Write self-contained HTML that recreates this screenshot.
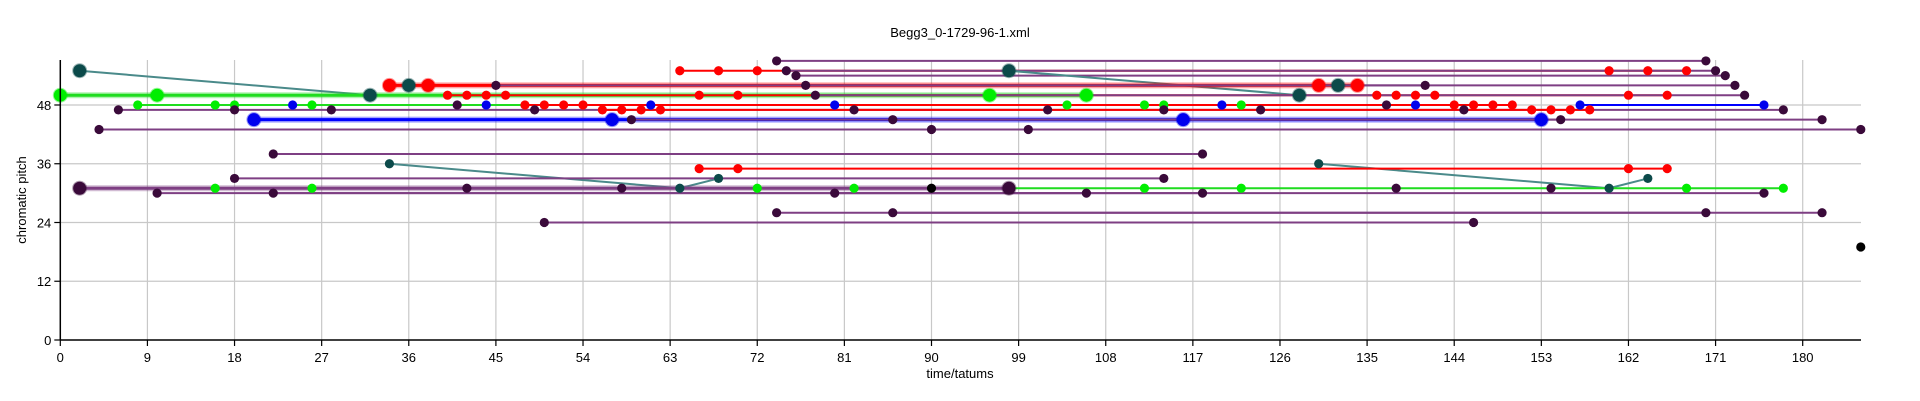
<!DOCTYPE html>
<html><head><meta charset="utf-8">
<style>
html,body{margin:0;padding:0;background:#fff;}
svg{display:block;font-family:"Liberation Sans",Arial,sans-serif;}
</style></head>
<body>
<svg id="chart" width="1920" height="401" viewBox="0 0 1920 401" xmlns="http://www.w3.org/2000/svg">
<text x="960" y="37" text-anchor="middle" font-size="13">Begg3_0-1729-96-1.xml</text>
<g id="grid"></g>
<g id="segs"></g>
<g id="dots"></g>
<g id="axes"></g>
<text x="960" y="378" text-anchor="middle" font-size="13">time/tatums</text>
<text transform="translate(26,200) rotate(-90)" text-anchor="middle" font-size="13">chromatic pitch</text>
</svg>
<script>
const xTicks = [0,9,18,27,36,45,54,63,72,81,90,99,108,117,126,135,144,153,162,171,180];
const yTicks = [0,12,24,36,48];
// segments: start time, end time, start pitch, end pitch, colour key, thick flag
const segT1 = [74,64,75,76,2,98,34,77,45,0,40,78,8,48,157,6,82,56,20,59,86,4,90,22,34,64,130,160,66,18,16,2,10,22,80,74,86,50];
const segT2 = [170,168,171,172,32,128,134,173,141,106,166,174,104,150,176,102,178,158,153,155,182,100,186,118,64,68,160,164,166,114,178,98,106,118,176,170,182,146];
const segP1 = [57,55,55,54,55,55,52,52,52,50,50,50,48,48,48,47,47,47,45,45,45,43,43,38,36,31,36,31,35,33,31,31,30,30,30,26,26,24];
const segP2 = [57,55,55,54,50,50,52,52,52,50,50,50,48,48,48,47,47,47,45,45,45,43,43,38,31,33,31,33,35,33,31,31,30,30,30,26,26,24];
const segC  = ['p','r','p','p','t','t','r','p','p','g','r','p','g','r','b','p','p','r','b','p','p','p','p','p','t','t','t','t','r','p','g','p','p','p','p','p','p','p'];
const segBig= [0,0,0,0,0,0,1,0,0,1,0,0,0,0,0,0,0,0,1,0,0,0,0,0,0,0,0,0,0,0,0,1,0,0,0,0,0,0];
// notes
const dotT = [2,98,32,36,128,132,34,38,130,134,0,10,96,106,20,57,116,153,2,98,
 8,16,18,26,104,112,114,122, 24,44,61,80,120,140,157,176,
 6,18,28,49,82,102,114,124,145,178,
 40,42,44,46,66,70,136,138,140,142,162,166,
 48,50,52,54,144,146,148,150, 56,58,60,62,152,154,156,158,
 64,68,72,160,164,168, 74,75,76,77,78,170,171,172,173,174,
 45,141,41,137,59,86,155,182,4,90,100,186,22,118,
 34,130,64,68,160,164,66,70,162,166,18,114,
 16,26,72,82,112,122,168,178, 42,58,138,154,90,
 10,22,80,106,118,176, 74,86,170,182, 50,146, 186];
const dotP = [55,55,50,52,50,52,52,52,52,52,50,50,50,50,45,45,45,45,31,31,
 48,48,48,48,48,48,48,48, 48,48,48,48,48,48,48,48,
 47,47,47,47,47,47,47,47,47,47,
 50,50,50,50,50,50,50,50,50,50,50,50,
 48,48,48,48,48,48,48,48, 47,47,47,47,47,47,47,47,
 55,55,55,55,55,55, 57,55,54,52,50,57,55,54,52,50,
 52,52,48,48,45,45,45,45,43,43,43,43,38,38,
 36,36,31,33,31,33,35,35,35,35,33,33,
 31,31,31,31,31,31,31,31, 31,31,31,31,31,
 30,30,30,30,30,30, 26,26,26,26, 24,24, 19];
const dotC = ['t','t','t','t','t','t','r','r','r','r','g','g','g','g','b','b','b','b','p','p',
 'g','g','g','g','g','g','g','g', 'b','b','b','b','b','b','b','b',
 'p','p','p','p','p','p','p','p','p','p',
 'r','r','r','r','r','r','r','r','r','r','r','r',
 'r','r','r','r','r','r','r','r','r','r','r','r','r','r','r','r',
 'r','r','r','r','r','r','p','p','p','p','p','p','p','p','p','p',
 'p','p','p','p','p','p','p','p','p','p','p','p','p','p',
 't','t','t','t','t','t','r','r','r','r','p','p',
 'g','g','g','g','g','g','g','g','p','p','p','p','k',
 'p','p','p','p','p','p','p','p','p','p','p','p','k'];
const dotBig = [1,1,1,1,1,1,1,1,1,1,1,1,1,1,1,1,1,1,1,1];

const X0=60.3, XS=9.68, Y0=340, YS=4.896, XR=1861, YT=60;
function xs(t){return X0+t*XS;}
function ys(p){return Y0-p*YS;}
const NS='http://www.w3.org/2000/svg';
function mk(tag,attrs,parent){const e=document.createElementNS(NS,tag);for(const k in attrs)e.setAttribute(k,attrs[k]);parent.appendChild(e);return e;}
const lineCol={p:'#7e3f83',r:'#ff0000',g:'#1fdc1f',b:'#0000ff',t:'#4a8a8a',k:'#000'};
const dotCol={p:'#3a0a3a',r:'#ff0000',g:'#00ee00',b:'#0000ee',t:'#0c4a4a',k:'#000'};
const grid=document.getElementById('grid'), segs=document.getElementById('segs'), dots=document.getElementById('dots'), axes=document.getElementById('axes');
xTicks.forEach(t=>{ if(t>0){
  const l=mk('line',{x1:xs(t),x2:xs(t),y1:YT,y2:Y0,stroke:'#c8c8c8','stroke-width':1.2},grid);
  
  }
  const tk=mk('line',{x1:xs(t),x2:xs(t),y1:Y0,y2:Y0+6,stroke:'#000','stroke-width':1.2},axes);
  
  
  const tx=mk('text',{x:xs(t),y:Y0+22,'text-anchor':'middle','font-size':13},axes);tx.textContent=t;
  
  
});
yTicks.forEach(p=>{ if(p>0){
  const l=mk('line',{x1:X0,x2:XR,y1:ys(p),y2:ys(p),stroke:'#c8c8c8','stroke-width':1.2},grid);
  
  }
  const tk=mk('line',{x1:X0-6,x2:X0,y1:ys(p),y2:ys(p),stroke:'#000','stroke-width':1.2},axes);
  
  
  const tx=mk('text',{x:X0-9,y:ys(p)+5,'text-anchor':'end','font-size':13},axes);tx.textContent=p;
  
  
});
const ax1=mk('line',{x1:X0,x2:X0,y1:YT,y2:Y0,stroke:'#000','stroke-width':1.5},axes);


const ax2=mk('line',{x1:X0,x2:XR,y1:Y0,y2:Y0,stroke:'#000','stroke-width':1.5},axes);


segT1.forEach((t,i)=>{
  const big=segBig[i];
  if(big){const h=mk('line',{x1:xs(t),x2:xs(segT2[i]),y1:ys(segP1[i]),y2:ys(segP2[i]),stroke:lineCol[segC[i]],'stroke-width':6,opacity:0.35},segs);
    
    }
  const l=mk('line',{x1:xs(t),x2:xs(segT2[i]),y1:ys(segP1[i]),y2:ys(segP2[i]),stroke:lineCol[segC[i]],'stroke-width':big?3:2},segs);
  
  
});
dotT.forEach((t,i)=>{
  const big=dotBig[i]===1;
  const c=mk('circle',{cx:xs(t),cy:ys(dotP[i]),r:big?6.5:4.6,fill:dotCol[dotC[i]]},dots);
  if(big){c.setAttribute('stroke',dotCol[dotC[i]]);c.setAttribute('stroke-opacity','0.4');c.setAttribute('stroke-width','2');}
  
  
});
</script>
</body></html>
